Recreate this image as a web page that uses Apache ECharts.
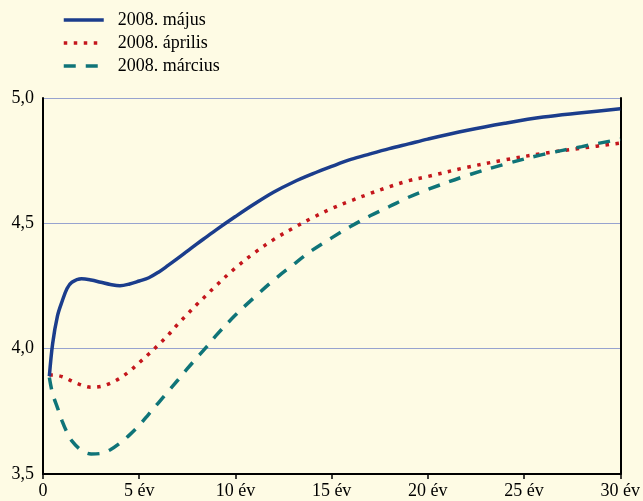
<!DOCTYPE html>
<html>
<head>
<meta charset="utf-8">
<script src="https://cdn.jsdelivr.net/npm/echarts@6/dist/echarts.min.js"></script>
<style>
  html, body { margin: 0; padding: 0; background: #fefbe4; }
  #chart { width: 643px; height: 501px; }
</style>
</head>
<body>
<div id="chart"></div>
<script>
// Maturity in years
const years = [0.33, 0.5, 0.75, 1, 1.25, 1.5, 2, 2.5, 3, 3.5, 4, 4.5, 5, 5.5, 6, 6.5, 7, 7.5, 8, 8.5, 9,
  10, 11, 12, 13, 14, 15, 16, 17, 18, 19, 20, 22, 24, 26, 28, 30];

// Yield curves (%)
const majus = [3.89, 4.02, 4.13, 4.19, 4.24, 4.265, 4.279, 4.274, 4.265, 4.256, 4.251, 4.258, 4.27, 4.283, 4.305,
  4.332, 4.36, 4.389, 4.418, 4.446, 4.474, 4.527, 4.578, 4.625, 4.664, 4.697, 4.727, 4.755, 4.777, 4.798, 4.817,
  4.836, 4.87, 4.899, 4.924, 4.941, 4.957];
const aprilis = [3.895, 3.895, 3.893, 3.888, 3.88, 3.871, 3.855, 3.846, 3.849, 3.862, 3.882, 3.91, 3.944, 3.979,
  4.015, 4.054, 4.097, 4.137, 4.177, 4.214, 4.252, 4.322, 4.383, 4.436, 4.481, 4.522, 4.559, 4.59, 4.619, 4.646,
  4.67, 4.687, 4.723, 4.753, 4.779, 4.80, 4.82];
const marcius = [3.885, 3.82, 3.765, 3.71, 3.666, 3.632, 3.594, 3.58, 3.582, 3.597, 3.623, 3.656, 3.694, 3.739,
  3.784, 3.829, 3.874, 3.92, 3.964, 4.007, 4.053, 4.134, 4.206, 4.274, 4.335, 4.393, 4.442, 4.488, 4.53, 4.567,
  4.604, 4.635, 4.69, 4.736, 4.775, 4.806, 4.836];

const seriesNames = ['2008. május', '2008. április', '2008. március'];
const xTickLabels = { 0: '0', 5: '5 év', 10: '10 év', 15: '15 év', 20: '20 év', 25: '25 év', 30: '30 év' };

const font = 'Liberation Serif';
const pairs = vals => years.map((y, i) => [y, vals[i]]);

const chart = echarts.init(document.getElementById('chart'));
chart.setOption({
  backgroundColor: '#fefbe4',
  animation: false,
  legend: {
    orient: 'vertical',
    left: 57,
    top: 6,
    itemWidth: 40,
    itemHeight: 14,
    itemGap: 5,
    itemStyle: { opacity: 0 },
    lineStyle: { width: 3.5 },
    textStyle: { fontFamily: font, fontSize: 18, color: '#000', padding: [0, 0, 0, 9] },
    data: seriesNames
  },
  grid: { left: 43, right: 20, top: 98, bottom: 27 },
  xAxis: {
    type: 'value',
    min: 0,
    max: 30,
    interval: 5,
    axisLine: { lineStyle: { color: '#000', width: 2 } },
    axisTick: { show: true, length: 5, lineStyle: { color: '#000', width: 1.5 } },
    axisLabel: {
      fontFamily: font, fontSize: 18, color: '#000', margin: 8,
      formatter: v => xTickLabels[v] ?? ''
    },
    splitLine: { show: false }
  },
  yAxis: [{
    type: 'value',
    min: 3.5,
    max: 5.0,
    interval: 0.5,
    axisLine: { show: true, lineStyle: { color: '#000', width: 2 } },
    axisTick: { show: false },
    axisLabel: {
      fontFamily: font, fontSize: 18, color: '#000', margin: 9,
      formatter: v => v.toFixed(1).replace('.', ',')
    },
    splitLine: { show: true, lineStyle: { color: '#97a3cf', width: 1.2 } }
  }, {
    type: 'value',
    position: 'right',
    min: 3.5,
    max: 5.0,
    interval: 0.5,
    axisLine: { show: true, lineStyle: { color: '#000', width: 2 } },
    axisTick: { show: false },
    axisLabel: { show: false },
    splitLine: { show: false }
  }],
  series: [{
    name: seriesNames[0],
    type: 'line',
    data: pairs(majus),
    smooth: 0.35,
    symbol: 'none',
    lineStyle: { color: '#1b3d8c', width: 3.5 },
    itemStyle: { color: '#1b3d8c' },
    z: 3
  }, {
    name: seriesNames[1],
    type: 'line',
    data: pairs(aprilis),
    smooth: 0.35,
    symbol: 'none',
    lineStyle: { color: '#c4161c', width: 3.5, type: [3.5, 6.5] },
    itemStyle: { color: '#c4161c' },
    z: 2
  }, {
    name: seriesNames[2],
    type: 'line',
    data: pairs(marcius),
    smooth: 0.35,
    symbol: 'none',
    lineStyle: { color: '#0f7478', width: 3.5, type: [12, 10] },
    itemStyle: { color: '#0f7478' },
    z: 2
  }]
});
</script>
</body>
</html>
